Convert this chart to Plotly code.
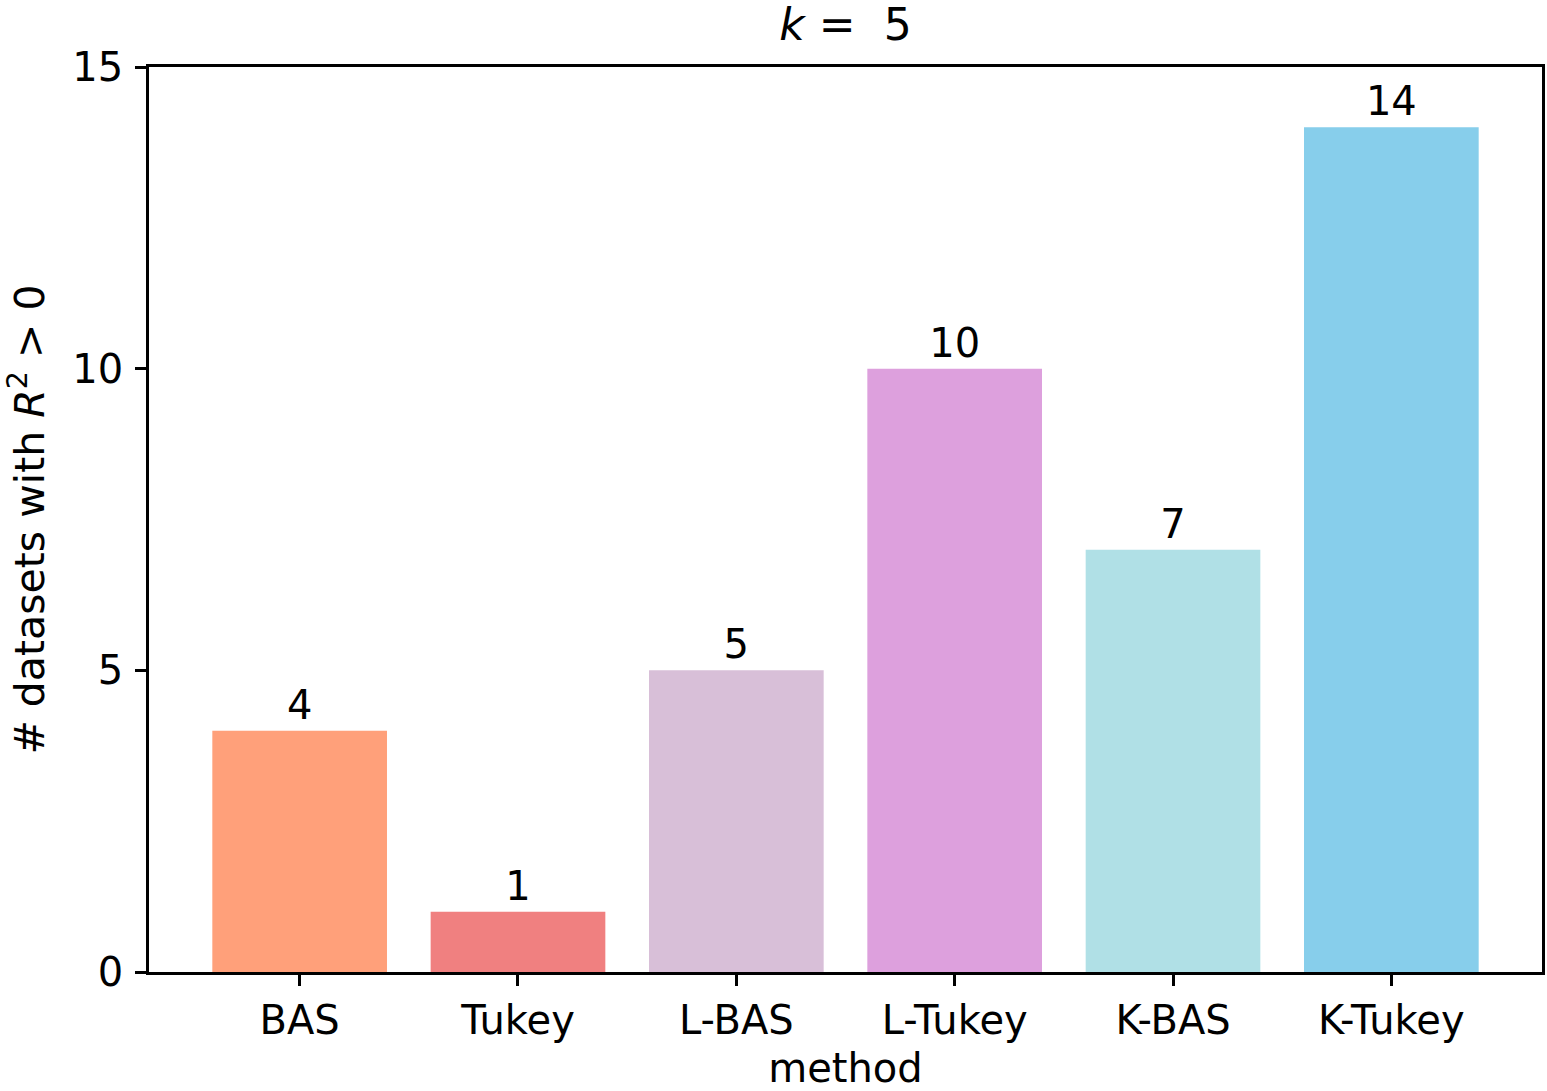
import plotly.graph_objects as go

methods = ["BAS", "Tukey", "L-BAS", "L-Tukey", "K-BAS", "K-Tukey"]
counts = [4, 1, 5, 10, 7, 14]
colors = ["#FFA07A", "#F08080", "#D8BFD8", "#DDA0DD", "#B0E0E6", "#87CEEB"]
yticks = [0, 5, 10, 15]

FONT = "DejaVu Sans"
fig = go.Figure()
fig.add_trace(go.Bar(
    x=list(range(len(methods))), y=counts, width=0.8,
    marker=dict(color=colors, line=dict(width=0)),
    text=[str(c) for c in counts], textposition="outside",
    textfont=dict(family=FONT, size=40, color="black"),
    cliponaxis=False,
))
fig.update_layout(
    width=1547, height=1091,
    margin=dict(l=149, r=2, t=67, b=119),
    plot_bgcolor="white", paper_bgcolor="white",
    font=dict(family=FONT, size=40, color="black"),
    showlegend=False,
    title=dict(text="<i>k</i> =  5", x=0.5, xanchor="center", xref="paper",
               y=1 - 25 / 1091, yanchor="middle", font=dict(size=44)),
    xaxis=dict(
        range=[-0.69, 5.69], tickmode="array",
        tickvals=list(range(len(methods))), ticktext=methods,
        showline=True, linecolor="black", linewidth=2.5, mirror=True,
        ticks="outside", ticklen=11, tickwidth=2.5, tickcolor="black",
        tickfont=dict(size=40),
        showgrid=False, zeroline=False,
        title=dict(text="method", standoff=14, font=dict(size=40)),
    ),
    yaxis=dict(
        range=[0, 15], tickvals=yticks,
        showline=True, linecolor="black", linewidth=2.5, mirror=True,
        ticks="outside", ticklen=11, tickwidth=2.5, tickcolor="black",
        tickfont=dict(size=40), ticklabelstandoff=4,
        showgrid=False, zeroline=False,
        title=dict(text="# datasets with <i>R</i><sup>2</sup> > 0", standoff=22,
                   font=dict(size=41)),
    ),
)
fig.write_html("out.html")
